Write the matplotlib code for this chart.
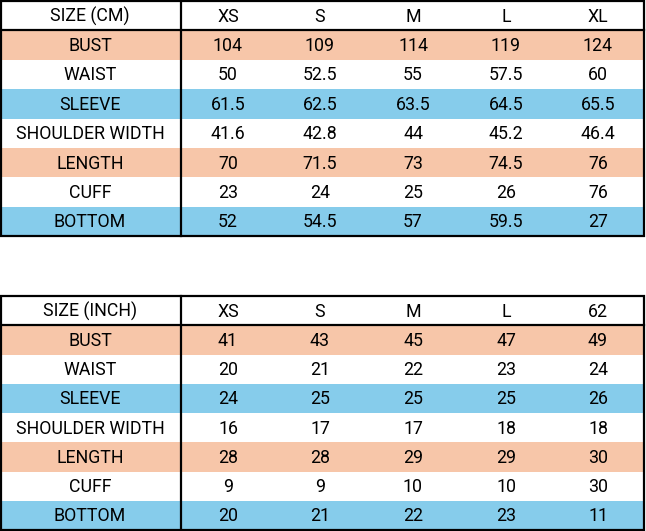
import matplotlib.pyplot as plt
from matplotlib.patches import Rectangle

PEACH = "#F7C6A9"
BLUE  = "#86CCEB"
DARK  = "#000000"

ROWS = ["BUST", "WAIST", "SLEEVE", "SHOULDER WIDTH", "LENGTH", "CUFF", "BOTTOM"]
ROW_COLORS = [PEACH, "white", BLUE, "white", PEACH, "white", BLUE]

CM_HEAD = ["SIZE (CM)", "XS", "S", "M", "L", "XL"]
CM_VALUES = [
    ["104", "109", "114", "119", "124"],
    ["50", "52.5", "55", "57.5", "60"],
    ["61.5", "62.5", "63.5", "64.5", "65.5"],
    ["41.6", "42.8", "44", "45.2", "46.4"],
    ["70", "71.5", "73", "74.5", "76"],
    ["23", "24", "25", "26", "76"],
    ["52", "54.5", "57", "59.5", "27"],
]

INCH_HEAD = ["SIZE (INCH)", "XS", "S", "M", "L", "62"]
INCH_VALUES = [
    ["41", "43", "45", "47", "49"],
    ["20", "21", "22", "23", "24"],
    ["24", "25", "25", "25", "26"],
    ["16", "17", "17", "18", "18"],
    ["28", "28", "29", "29", "30"],
    ["9", "9", "10", "10", "30"],
    ["20", "21", "22", "23", "11"],
]

W, H = 646, 531
COL_X = [90, 228, 320, 413, 506, 598]
SPLIT_X = 181
RIGHT_X = 644
FS = 12.8

fig = plt.figure(figsize=(W / 100, H / 100), dpi=100)
ax = fig.add_axes([0, 0, 1, 1])
ax.set_xlim(0, W)
ax.set_ylim(H, 0)
ax.axis('off')


def draw_table(top, bottom, head, values):
    rh = (bottom - top) / 8
    for i, color in enumerate(ROW_COLORS):
        y0 = top + rh * (i + 1)
        ax.add_patch(Rectangle((1, y0), RIGHT_X - 1, rh, facecolor=color,
                               edgecolor='none', zorder=1))
    for j, txt in enumerate(head):
        ax.text(COL_X[j], top + rh / 2 + 1, txt, ha='center', va='center',
                fontsize=FS, family='Roboto', zorder=3)
    for i, row in enumerate(values):
        yc = top + rh * (i + 1.5) + 1
        ax.text(COL_X[0], yc, ROWS[i], ha='center', va='center',
                fontsize=FS, family='Roboto', zorder=3)
        for j, v in enumerate(row):
            ax.text(COL_X[j + 1], yc, v, ha='center', va='center',
                    fontsize=FS, family='Roboto', zorder=3)
    # borders
    ax.add_patch(Rectangle((1, top), RIGHT_X - 1, bottom - top, facecolor='none',
                           edgecolor=DARK, lw=1.6, zorder=4))
    ax.plot([1, RIGHT_X], [top + rh, top + rh], color=DARK, lw=1.6, zorder=4)
    ax.plot([SPLIT_X, SPLIT_X], [top, bottom], color=DARK, lw=1.6, zorder=4)


draw_table(1, 236, CM_HEAD, CM_VALUES)
draw_table(296, 530, INCH_HEAD, INCH_VALUES)

plt.savefig('out.png', dpi=100, facecolor='white')
